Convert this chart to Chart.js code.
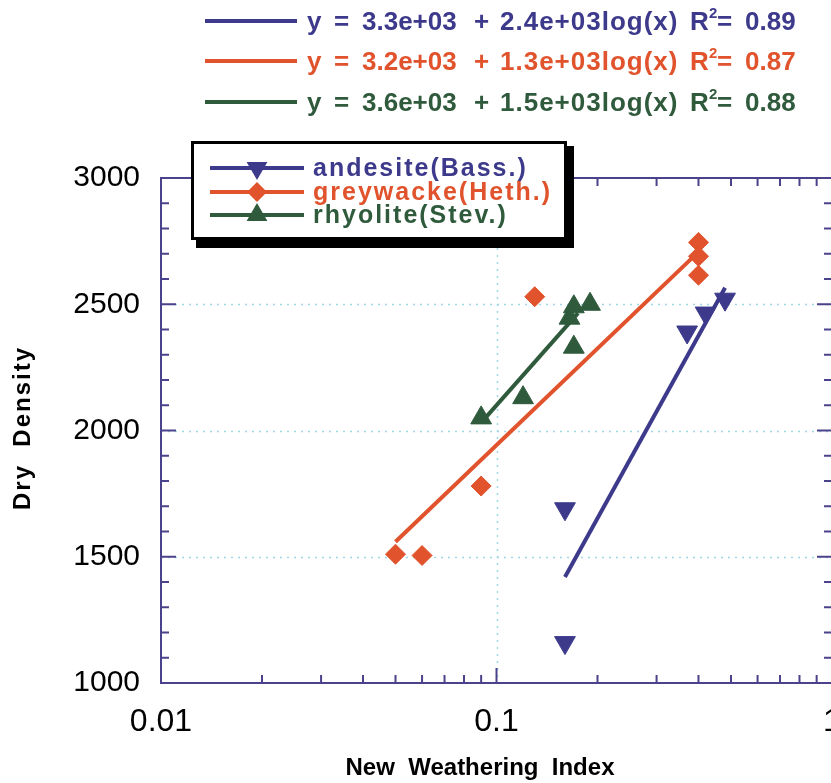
<!DOCTYPE html>
<html>
<head>
<meta charset="utf-8">
<script src="https://cdn.jsdelivr.net/npm/chart.js@4.4.1/dist/chart.umd.min.js"></script>
<style>
  html, body { margin: 0; padding: 0; background: #fff; overflow: hidden; width: 831px; height: 783px; }
  #wrap { position: relative; width: 845px; height: 783px; }
  canvas { display: block; }
</style>
</head>
<body>
<div id="wrap"><canvas id="chart" width="845" height="783"></canvas></div>
<script>
// Measured samples: weathering index vs dry density
const seriesNames = ['andesite(Bass.)', 'greywacke(Heth.)', 'rhyolite(Stev.)'];
const andesiteX  = [0.16, 0.16, 0.37, 0.42, 0.48];
const andesiteY  = [1160, 1690, 2390, 2465, 2520];
const greywackeX = [0.05, 0.06, 0.09, 0.13, 0.40, 0.40, 0.40];
const greywackeY = [1510, 1505, 1780, 2530, 2745, 2690, 2615];
const rhyoliteX  = [0.09, 0.12, 0.165, 0.17, 0.17, 0.19];
const rhyoliteY  = [2050, 2130, 2445, 2490, 2330, 2500];

// Log fits  y = a + b*log10(x)
const fitIntercepts = [3330, 3213, 3600];
const fitSlopes     = [2400, 1271, 1500];
const fitRSquared   = [0.89, 0.87, 0.88];
const fitRanges     = [[0.16, 0.48], [0.05, 0.40], [0.09, 0.175]];

// Axis ticks and titles
const xTickValues  = [0.01, 0.1, 1];
const xMinorTicks  = [0.02, 0.03, 0.04, 0.05, 0.06, 0.07, 0.08, 0.09, 0.2, 0.3, 0.4, 0.5, 0.6, 0.7, 0.8, 0.9];
const yTickValues  = [1000, 1500, 2000, 2500, 3000];
const yMinorTicks  = [1100, 1200, 1300, 1400, 1600, 1700, 1800, 1900, 2100, 2200, 2300, 2400, 2600, 2700, 2800, 2900];
const xGridValues  = [0.1];
const yGridValues  = [1500, 2000, 2500];
const xTitle = 'New  Weathering  Index';
const yTitle = 'Dry  Density';

const FONT = '"Liberation Sans", Arial, Helvetica, sans-serif';
const colors = ['#3d3a8c', '#e0532c', '#2f5a3c'];
const pointStyles = ['triangle', 'rectRot', 'triangle'];
const pointRotations = [180, 0, 0];
const pointRadii = [12, 10, 12];
const frameColor = '#4a428a';
const gridColor = '#9fd7e4';

const xsAll = [andesiteX, greywackeX, rhyoliteX];
const ysAll = [andesiteY, greywackeY, rhyoliteY];

function fitLine(i) {
  return fitRanges[i].map(x => ({ x, y: fitIntercepts[i] + fitSlopes[i] * Math.log10(x) }));
}
function sci(v) {
  return v.toExponential(1).replace(/e([+-])(\d)$/, 'e$10$2');
}

const datasets = [];
seriesNames.forEach((name, i) => {
  datasets.push({
    label: name,
    data: xsAll[i].map((x, j) => ({ x, y: ysAll[i][j] })),
    showLine: false,
    pointStyle: pointStyles[i],
    rotation: pointRotations[i],
    radius: pointRadii[i],
    backgroundColor: colors[i],
    borderColor: colors[i],
    borderWidth: 1,
    order: 1
  });
});
seriesNames.forEach((name, i) => {
  datasets.push({
    label: name + ' fit',
    data: fitLine(i),
    showLine: true,
    borderColor: colors[i],
    borderWidth: 4,
    pointRadius: 0,
    order: 2
  });
});

const decorations = {
  id: 'decorations',
  beforeDatasetsDraw(chart) {
    const { ctx, chartArea: a, scales: { x, y } } = chart;
    ctx.save();
    // dotted grid
    ctx.strokeStyle = gridColor;
    ctx.lineWidth = 1.5;
    ctx.setLineDash([2, 5]);
    xGridValues.forEach(v => {
      const px = Math.round(x.getPixelForValue(v)) + 0.5;
      ctx.beginPath(); ctx.moveTo(px, a.top); ctx.lineTo(px, a.bottom); ctx.stroke();
    });
    yGridValues.forEach(v => {
      const py = Math.round(y.getPixelForValue(v)) + 0.5;
      ctx.beginPath(); ctx.moveTo(a.left, py); ctx.lineTo(a.right, py); ctx.stroke();
    });
    ctx.setLineDash([]);
    // frame
    ctx.strokeStyle = frameColor;
    ctx.lineWidth = 2;
    ctx.strokeRect(a.left, a.top, a.right - a.left, a.bottom - a.top);
    // inward ticks on all four sides
    const tick = (x0, y0, x1, y1) => { ctx.beginPath(); ctx.moveTo(x0, y0); ctx.lineTo(x1, y1); ctx.stroke(); };
    const drawX = (vals, len) => vals.forEach(v => {
      const px = x.getPixelForValue(v);
      tick(px, a.bottom, px, a.bottom - len);
      tick(px, a.top, px, a.top + len);
    });
    const drawY = (vals, len) => vals.forEach(v => {
      const py = y.getPixelForValue(v);
      tick(a.left, py, a.left + len, py);
      tick(a.right, py, a.right - len, py);
    });
    drawX(xMinorTicks, 8); drawX(xTickValues, 15);
    drawY(yMinorTicks, 8); drawY(yTickValues, 15);
    ctx.restore();
  },
  afterDatasetsDraw(chart) {
    const { ctx } = chart;
    ctx.save();
    // fit equations header
    const rowY = [22, 62, 103];
    seriesNames.forEach((n, i) => {
      const yy = rowY[i];
      ctx.strokeStyle = colors[i];
      ctx.lineWidth = 4;
      ctx.beginPath(); ctx.moveTo(205, yy - 1); ctx.lineTo(297, yy - 1); ctx.stroke();
      ctx.fillStyle = colors[i];
      ctx.textBaseline = 'middle';
      ctx.textAlign = 'left';
      ctx.font = 'bold 26px ' + FONT;
      const parts = [
        ['y', 307, 0], ['=', 334, 0], [sci(fitIntercepts[i]), 362, 0], ['+', 474, 0],
        [sci(fitSlopes[i]) + 'log(x)', 500, 1], ['R', 690, 0], ['=', 717, 0], [fitRSquared[i].toFixed(2), 745, 0]
      ];
      parts.forEach(([t, px, ls]) => {
        ctx.letterSpacing = ls + 'px';
        ctx.fillText(t, px, yy + 1);
      });
      ctx.letterSpacing = '0px';
      ctx.font = 'bold 15px ' + FONT;
      ctx.fillText('2', 709, yy - 8);
    });

    // legend box with drop shadow
    const bx = 191, by = 141, bw = 376, bh = 99;
    ctx.fillStyle = '#000';
    ctx.fillRect(bx + 5, by + 5, bw + 2, bh + 3);
    ctx.fillStyle = '#fff';
    ctx.fillRect(bx, by, bw, bh);
    ctx.strokeStyle = '#000';
    ctx.lineWidth = 3;
    ctx.strokeRect(bx + 1.5, by + 1.5, bw - 3, bh - 3);
    const legY = [168, 192, 215];
    seriesNames.forEach((n, i) => {
      const yy = legY[i];
      ctx.strokeStyle = colors[i];
      ctx.lineWidth = 4;
      ctx.beginPath(); ctx.moveTo(210, yy); ctx.lineTo(304, yy); ctx.stroke();
      ctx.fillStyle = colors[i];
      Chart.helpers.drawPoint(ctx, {
        pointStyle: pointStyles[i], rotation: pointRotations[i],
        radius: pointRadii[i], borderWidth: 0
      }, 257, yy);
      ctx.font = 'bold 25px ' + FONT;
      ctx.letterSpacing = '2px';
      ctx.textBaseline = 'middle';
      ctx.fillText(n, 313, yy + 1);
      ctx.letterSpacing = '0px';
    });

    // axis titles
    ctx.fillStyle = '#000';
    ctx.font = 'bold 24px ' + FONT;
    ctx.textAlign = 'center';
    ctx.textBaseline = 'middle';
    ctx.fillText(xTitle, 480, 768);
    ctx.save();
    ctx.translate(23, 428);
    ctx.rotate(-Math.PI / 2);
    ctx.letterSpacing = '2px';
    ctx.fillText(yTitle, 0, 0);
    ctx.restore();
    ctx.restore();
  }
};

new Chart(document.getElementById('chart'), {
  type: 'scatter',
  data: { datasets },
  options: {
    responsive: false,
    animation: false,
    devicePixelRatio: 1,
    layout: { padding: { left: 0, right: 7, top: 178, bottom: 0 } },
    plugins: { legend: { display: false }, tooltip: { enabled: false } },
    scales: {
      x: {
        type: 'logarithmic', min: 0.01, max: 1, position: 'bottom',
        afterBuildTicks: s => { s.ticks = xTickValues.map(v => ({ value: v })); },
        afterFit: s => { s.height = 100; s.paddingLeft = 0; s.paddingRight = 0; },
        grid: { display: false, drawTicks: false }, border: { display: false },
        ticks: {
          autoSkip: false, maxRotation: 0, padding: 20, color: '#000',
          font: { family: FONT, size: 32 },
          callback: v => String(v)
        }
      },
      y: {
        min: 1000, max: 3000,
        afterBuildTicks: s => { s.ticks = yTickValues.map(v => ({ value: v })); },
        afterFit: s => { s.width = 161; },
        grid: { display: false, drawTicks: false }, border: { display: false },
        ticks: {
          padding: 21, color: '#000',
          font: { family: FONT, size: 30 },
          callback: v => String(v)
        }
      }
    }
  },
  plugins: [decorations]
});
</script>
</body>
</html>
